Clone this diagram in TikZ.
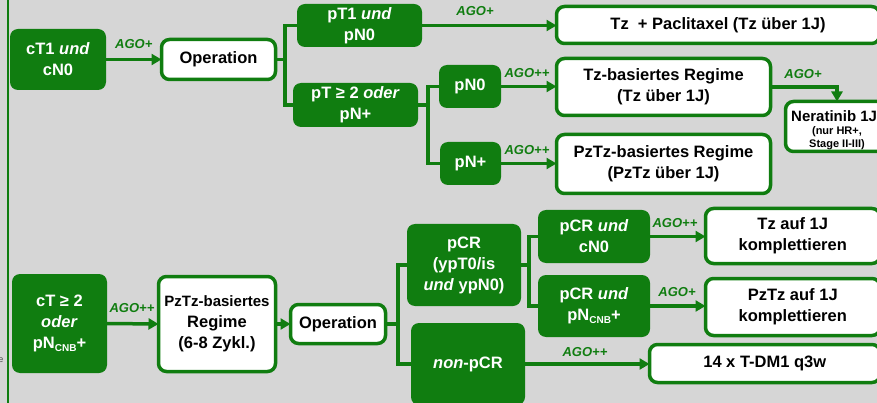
\documentclass[tikz,border=0pt]{standalone}
\usepackage{fontspec}
\setmainfont{Liberation Sans}
\usetikzlibrary{arrows.meta}
\definecolor{ggreen}{RGB}{16,125,16}
\definecolor{bggray}{RGB}{214,214,214}
\newcommand{\cnbsub}{\raisebox{-2.5pt}{\fontsize{10}{10}\selectfont CNB}}
\tikzset{
 base/.style={rectangle, rounded corners=8pt, inner sep=0pt, outer sep=0pt, align=center, font=\fontsize{16.5}{21}\selectfont\bfseries},
 gbox/.style={base, fill=ggreen, text=white},
 wbox/.style={base, fill=white, draw=ggreen, line width=3.5pt, text=black},
 conn/.style={draw=ggreen, line width=3.5pt},
 arr/.style={conn, -{Triangle[length=10pt,width=11pt]}},
 ago/.style={text=ggreen, font=\fontsize{13}{13}\selectfont\bfseries\itshape, inner sep=0pt},
 smalltxt/.style={inner sep=0pt, anchor=base, text=black, font=\fontsize{11}{12}\selectfont\bfseries},
}
\begin{document}
\begin{tikzpicture}[x=1pt,y=-1pt]
\useasboundingbox (0,0) rectangle (877,403);
\clip (0,0) rectangle (877,403);
\fill[bggray] (0,0) rectangle (877,403);
\coordinate (vl1) at (8,0);
\coordinate (vl2) at (8,403);
\draw[ggreen, line width=2pt] (vl1) -- (vl2);
\node[anchor=base east, inner sep=0pt, text=black!70, font=\fontsize{9}{9}\selectfont] (frag) at (3.5,362) {e};

% top part
\node[gbox, minimum width=96pt, minimum height=61pt] (cT1) at (58,59.5) {cT1 \textit{und}\\cN0};
\node[wbox, minimum width=114pt, minimum height=40pt] (op1) at (218.5,59.5) {Operation};
\node[gbox, minimum width=125pt, minimum height=43pt] (pT1) at (359.5,25.5) {pT1 \textit{und}\\pN0};
\node[gbox, minimum width=125pt, minimum height=44pt] (pT2) at (355.5,105) {pT ≥ 2 \textit{oder}\\pN+};
\node[gbox, minimum width=62pt, minimum height=43pt] (pN0) at (470,86.5) {pN0};
\node[gbox, minimum width=61pt, minimum height=43pt] (pNp) at (470.5,163.5) {pN+};
\node[wbox, minimum width=323pt, minimum height=37pt] (tzpac) at (718,25) {Tz~~+ Paclitaxel (Tz über 1J)};
\node[wbox, minimum width=214pt, minimum height=57pt] (tzb) at (663.5,87) {Tz-basiertes Regime\\(Tz über 1J)};
\node[wbox, minimum width=214pt, minimum height=59pt] (pztzb) at (663.5,164) {PzTz-basiertes Regime\\(PzTz über 1J)};
\node[wbox, minimum width=103pt, minimum height=50pt] (nera) at (837,126.5) {};
\node[smalltxt, anchor=base west, font=\fontsize{15}{18}\selectfont\bfseries] (nt1) at (791,122) {Neratinib 1J};
\node[smalltxt] (nt2) at (837,135) {(nur HR+,};
\node[smalltxt] (nt3) at (837,147.5) {Stage II-III)};

\draw[arr] (cT1.east) -- (op1.west) node[ago, midway, above=9pt] (l1) {AGO+};
\coordinate (b1) at (285,59.5);
\draw[conn] (op1.east) -- (b1);
\draw[conn] (pT1.west) -| (b1) |- (pT2.west);
\draw[arr] (pT1.east) -- (pT1.east -| tzpac.west);
\node[ago] (l2) at (475,11) {AGO+};
\coordinate (b2) at (428,105);
\draw[conn] (pT2.east) -- (b2);
\draw[conn] (pN0.west) -| (b2) |- (pNp.west);
\draw[arr] (pN0.east) -- (pN0.east -| tzb.west);
\node[ago] (l3) at (527,73) {AGO++};
\draw[arr] (pNp.east) -- (pNp.east -| pztzb.west);
\node[ago] (l4) at (527,150) {AGO++};
\draw[arr] (tzb.east) -| (nera.north);
\node[ago] (l5) at (803,74) {AGO+};

% bottom part
\node[gbox, minimum width=95pt, minimum height=99pt] (cT2) at (59.5,323.5) {cT ≥ 2\\\textit{oder}\\pN\cnbsub+};
\node[wbox, minimum width=117pt, minimum height=95pt] (pz68) at (217,324) {{\fontsize{15}{21}\selectfont PzTz-basiertes}\\Regime\\(6-8 Zykl.)};
\node[wbox, minimum width=95pt, minimum height=39pt] (op2) at (338,324) {Operation};
\node[gbox, minimum width=114pt, minimum height=82pt] (pCR) at (464,265) {pCR\\(ypT0/is\\\textit{und} ypN0)};
\node[gbox, minimum width=114pt, minimum height=82pt] (npcr) at (468,364) {\textit{non}-pCR};
\node[gbox, minimum width=112pt, minimum height=53pt] (pcrc) at (594,236.5) {pCR \textit{und}\\cN0};
\node[gbox, minimum width=112pt, minimum height=62pt] (pcrp) at (594,306) {pCR \textit{und}\\pN\cnbsub+};
\node[wbox, minimum width=174.5pt, minimum height=55pt] (tz1j) at (792.75,236) {Tz auf 1J\\komplettieren};
\node[wbox, minimum width=174.5pt, minimum height=57pt] (pz1j) at (792.75,307) {PzTz auf 1J\\komplettieren};
\node[wbox, minimum width=230.5pt, minimum height=38pt] (tdm1) at (764.75,363.5) {14 x T-DM1 q3w};

\draw[arr] (cT2.east) -- (pz68.west);
\node[ago] (l6) at (132,308) {AGO++};
\draw[arr] (pz68.east) -- (op2.west);
\coordinate (b3) at (398,324);
\draw[conn] (op2.east) -- (b3);
\draw[conn] (pCR.west) -| (b3) |- (npcr.west);
\coordinate (b4) at (529,265);
\draw[conn] (pCR.east) -- (b4);
\draw[conn] (pcrc.west) -| (b4) |- (pcrp.west);
\draw[arr] (pcrc.east) -- (pcrc.east -| tz1j.west);
\node[ago] (l7) at (675,223) {AGO++};
\draw[arr] (pcrp.east) -- (pcrp.east -| pz1j.west);
\node[ago] (l8) at (677,292) {AGO+};
\draw[arr] (npcr.east) -- (npcr.east -| tdm1.west);
\node[ago] (l9) at (585,352) {AGO++};
\end{tikzpicture}
\end{document}
